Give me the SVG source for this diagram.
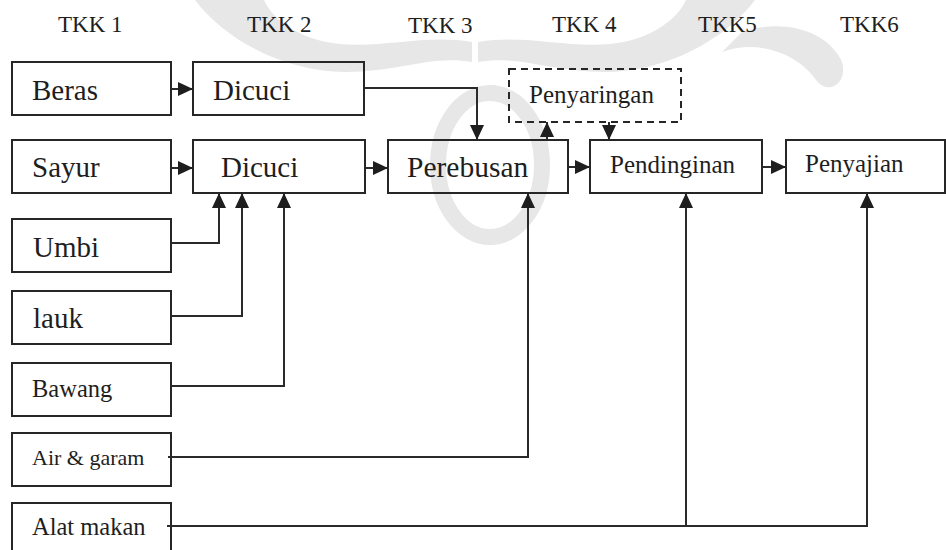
<svg xmlns="http://www.w3.org/2000/svg" width="946" height="550" viewBox="0 0 946 550">
  <defs>
    <style>
      .box { fill: none; stroke: #262626; stroke-width: 2; }
      .dash { fill: none; stroke: #262626; stroke-width: 2; stroke-dasharray: 7 5; }
      .wire { fill: none; stroke: #2a2a2a; stroke-width: 2; }
      .wm { fill: #e7e7e7; stroke: none; }
      .wmr { fill: none; stroke: #e7e7e7; }
    </style>
    <marker id="arr" markerUnits="userSpaceOnUse" markerWidth="16" markerHeight="16" refX="15" refY="7" orient="auto">
      <path d="M0,0 L15,7 L0,14 z" fill="#1e1e1e"/>
    </marker>
  </defs>

  <rect width="946" height="550" fill="#fff"/>

  <!-- faint emblem in the background -->
  <g id="emblem">
    <path class="wm" d="M195,0 C225,40 285,72 345,72 C400,72 430,55 472,62 L472,42 C425,34 385,48 340,44 C298,40 272,18 264,0 Z"/>
    <path class="wm" d="M755,0 C725,40 665,72 605,72 C550,72 520,55 478,62 L478,42 C525,34 565,48 610,44 C652,40 678,18 686,0 Z"/>
    <path class="wm" d="M722,52 C760,38 800,56 816,80 C828,96 848,84 842,62 C828,30 782,18 742,32 Z"/>
    <ellipse class="wmr" cx="490" cy="165" rx="52" ry="72" stroke-width="16"/>
  </g>

  <!-- stage headings -->
  <g id="headings" font-family="Liberation Serif, serif" font-size="23" fill="#1e1e1e">
    <text x="58" y="32">TKK 1</text>
    <text x="247" y="32">TKK 2</text>
    <text x="408" y="33">TKK 3</text>
    <text x="552" y="32">TKK 4</text>
    <text x="698" y="32">TKK5</text>
    <text x="840" y="32">TKK6</text>
  </g>

  <!-- connectors -->
  <g id="connectors" class="wire">
    <path d="M171,89 H193" marker-end="url(#arr)"/>
    <path d="M171,168 H193" marker-end="url(#arr)"/>
    <path d="M364,88 H477 V140" marker-end="url(#arr)"/>
    <path d="M365,168 H388" marker-end="url(#arr)"/>
    <path d="M547,140 V122" marker-end="url(#arr)"/>
    <path d="M609,122 V140" marker-end="url(#arr)"/>
    <path d="M568,167 H590" marker-end="url(#arr)"/>
    <path d="M762,167 H786" marker-end="url(#arr)"/>
    <path d="M171,243 H219 V193" marker-end="url(#arr)"/>
    <path d="M171,316 H242 V193" marker-end="url(#arr)"/>
    <path d="M171,386 H284 V193" marker-end="url(#arr)"/>
    <path d="M168,457 H528 V193" marker-end="url(#arr)"/>
    <path d="M167,526 H867 V193" marker-end="url(#arr)"/>
    <path d="M686,526 V193" marker-end="url(#arr)"/>
  </g>

  <g font-family="Liberation Serif, serif" fill="#1e1e1e">
    <!-- ingredients -->
    <g id="beras"><rect class="box" x="12" y="62" width="159" height="53"/><text x="32" y="100" font-size="29">Beras</text></g>
    <g id="sayur"><rect class="box" x="12" y="140" width="159" height="53"/><text x="32" y="177" font-size="29">Sayur</text></g>
    <g id="umbi"><rect class="box" x="12" y="219" width="159" height="53"/><text x="33" y="257" font-size="29">Umbi</text></g>
    <g id="lauk"><rect class="box" x="12" y="291" width="159" height="53"/><text x="33" y="328" font-size="29">lauk</text></g>
    <g id="bawang"><rect class="box" x="12" y="363" width="159" height="53"/><text x="32" y="397" font-size="24.5">Bawang</text></g>
    <g id="air-garam"><rect class="box" x="12" y="433" width="159" height="53"/><text x="32" y="465" font-size="22">Air &amp; garam</text></g>
    <g id="alat-makan"><rect class="box" x="12" y="503" width="159" height="60"/><text x="32" y="535" font-size="24.5">Alat makan</text></g>

    <!-- process steps -->
    <g id="dicuci-beras"><rect class="box" x="193" y="62" width="171" height="53"/><text x="213" y="100" font-size="29">Dicuci</text></g>
    <g id="dicuci-sayur"><rect class="box" x="193" y="140" width="172" height="53"/><text x="221" y="177" font-size="29">Dicuci</text></g>
    <g id="perebusan"><rect class="box" x="388" y="140" width="180" height="53"/><text x="407" y="177" font-size="29.5">Perebusan</text></g>
    <g id="penyaringan"><rect class="dash" x="509" y="69" width="172" height="53"/><text x="529" y="103" font-size="25">Penyaringan</text></g>
    <g id="pendinginan"><rect class="box" x="590" y="140" width="172" height="53"/><text x="610" y="173" font-size="25">Pendinginan</text></g>
    <g id="penyajian"><rect class="box" x="786" y="140" width="159" height="53"/><text x="805" y="172" font-size="25">Penyajian</text></g>
  </g>
</svg>
